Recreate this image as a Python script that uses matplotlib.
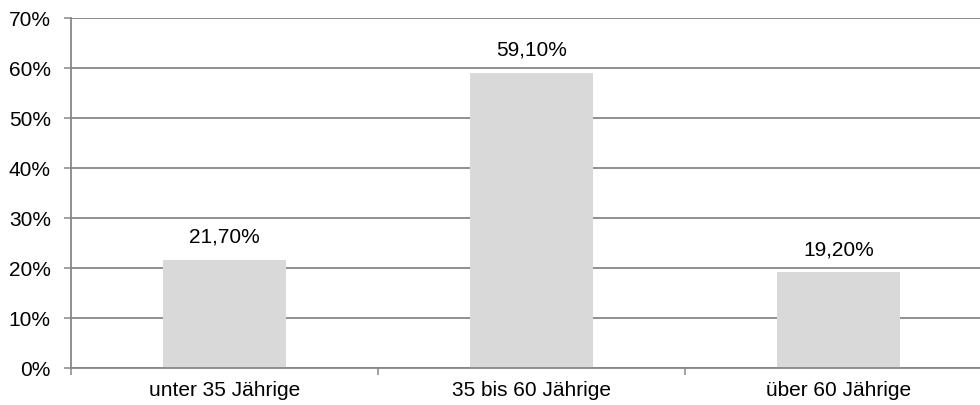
import matplotlib
matplotlib.use("Agg")
import matplotlib.pyplot as plt
from matplotlib.ticker import FixedLocator

categories = ["unter 35 Jährige", "35 bis 60 Jährige", "über 60 Jährige"]
values = [21.7, 59.1, 19.2]
value_labels = ["21,70%", "59,10%", "19,20%"]
y_ticks = [0, 10, 20, 30, 40, 50, 60, 70]
y_tick_labels = ["0%", "10%", "20%", "30%", "40%", "50%", "60%", "70%"]

plt.rcParams['font.family'] = ['Liberation Sans', 'DejaVu Sans']
FS = 15

W, H = 980, 405
fig = plt.figure(figsize=(W / 100, H / 100), dpi=100)
left, right = 71, 992
bottom, top = 368, 18
ax = fig.add_axes([left / W, (H - bottom) / H, (right - left) / W, (bottom - top) / H])

grid_col = "#878787"
x = list(range(len(categories)))
ax.bar(x, values, width=0.4, color="#d9d9d9", zorder=3)
for xi, v, lab in zip(x, values, value_labels):
    ax.annotate(lab, (xi, v), xytext=(0, 13), textcoords="offset pixels",
                ha="center", va="bottom", fontsize=FS, color="#000000", zorder=4)

ax.set_xlim(-0.5, 2.5)
ax.set_ylim(0, 70)
ax.set_yticks(y_ticks)
ax.set_yticklabels(y_tick_labels, fontsize=FS)
ax.set_xticks(x)
ax.set_xticklabels(categories, fontsize=FS)
ax.xaxis.set_minor_locator(FixedLocator([-0.5, 0.5, 1.5]))
ax.tick_params(axis="x", which="major", length=0, pad=9)
ax.tick_params(axis="x", which="minor", length=5, width=1.1, color=grid_col, direction="out")
ax.tick_params(axis="y", length=5, width=1.1, color=grid_col, direction="out", pad=9.5)

ax.yaxis.grid(True, color=grid_col, linewidth=1.3, zorder=0)
ax.set_axisbelow(True)
for s in ["top", "right"]:
    ax.spines[s].set_visible(False)
for s in ["left", "bottom"]:
    ax.spines[s].set_color(grid_col)
    ax.spines[s].set_linewidth(1.3)
    ax.spines[s].set_zorder(5)

fig.savefig("out.png", dpi=100, facecolor="white")
